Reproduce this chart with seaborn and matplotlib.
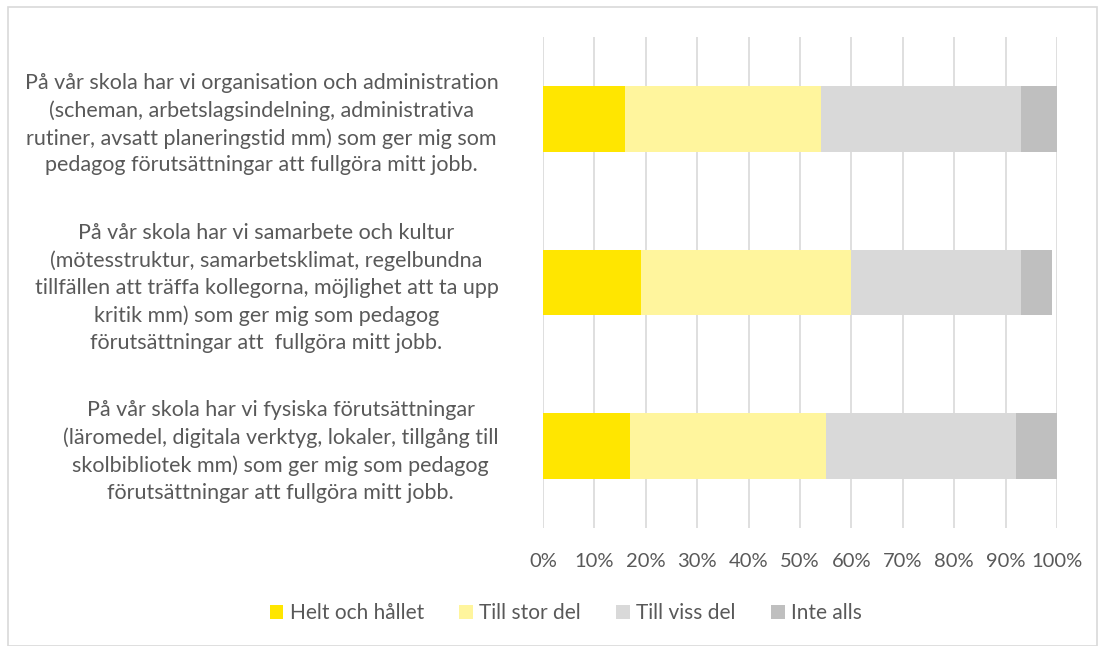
import matplotlib
matplotlib.use("Agg")
import matplotlib.pyplot as plt
import numpy as np
import pandas as pd
import seaborn as sns
from matplotlib.patches import Patch, Rectangle

questions = [
    "På vår skola har vi organisation och administration\n(scheman, arbetslagsindelning, administrativa\nrutiner, avsatt planeringstid mm) som ger mig som\npedagog förutsättningar att fullgöra mitt jobb.",
    "På vår skola har vi samarbete och kultur\n(mötesstruktur, samarbetsklimat, regelbundna\ntillfällen att träffa kollegorna, möjlighet att ta upp\nkritik mm) som ger mig som pedagog\nförutsättningar att  fullgöra mitt jobb.",
    "På vår skola har vi fysiska förutsättningar\n(läromedel, digitala verktyg, lokaler, tillgång till\nskolbibliotek mm) som ger mig som pedagog\nförutsättningar att fullgöra mitt jobb.",
]
answers = ["Helt och hållet", "Till stor del", "Till viss del", "Inte alls"]
helt = [16, 19, 17]
stor = [38, 41, 38]
viss = [39, 33, 37]
inte = [7, 6, 8]
colors = ["#FFE600", "#FFF59D", "#D9D9D9", "#BFBFBF"]

sns.set_theme(style="white")
plt.rcParams["font.family"] = ["Lato", "DejaVu Sans"]
text_col = "#595959"

df = pd.DataFrame({"fraga": questions, answers[0]: helt, answers[1]: stor,
                   answers[2]: viss, answers[3]: inte})
cum = df[answers].cumsum(axis=1)

fig = plt.figure(figsize=(11.05, 6.46), dpi=100)
ax = fig.add_axes([0.4914, 0.1827, 0.4652, 0.76])

# draw cumulative bars from the outermost segment inwards
for name, col in reversed(list(zip(answers, colors))):
    sns.barplot(x=cum[name], y=df["fraga"], orient="h", color=col,
                width=0.4, ax=ax, saturation=1, linewidth=0, zorder=3)

ax.set_xlim(0, 100)
ax.set_ylim(2.5, -0.5)
ax.set_xticks(np.arange(0, 101, 10))
ax.set_xticklabels([f"{v}%" for v in range(0, 101, 10)], color=text_col, fontsize=14.5)
ax.set_yticklabels(questions, color=text_col, fontsize=15.5, multialignment="center",
                   linespacing=1.43)
ax.tick_params(axis="y", pad=32, length=0)
ax.tick_params(axis="x", pad=18, length=0)
ax.set_xlabel("")
ax.set_ylabel("")
ax.grid(axis="x", color="#D9D9D9", linewidth=1.2, zorder=0)
ax.set_axisbelow(True)
for s in ax.spines.values():
    s.set_visible(False)

handles = [Patch(facecolor=c, edgecolor="none") for c in colors]
fig.legend(handles, answers, loc="center", bbox_to_anchor=(0.512, 0.051), ncol=4,
           frameon=False, fontsize=15, labelcolor=text_col, handlelength=0.65,
           handleheight=0.65, handletextpad=0.3, columnspacing=1.7)

fig.patches.append(Rectangle((8 / 1105, 0), (1097 - 8) / 1105, 1 - 7 / 646,
                             transform=fig.transFigure, fill=False,
                             edgecolor="#D9D9D9", linewidth=1.2))

fig.savefig("out.png", dpi=100)
